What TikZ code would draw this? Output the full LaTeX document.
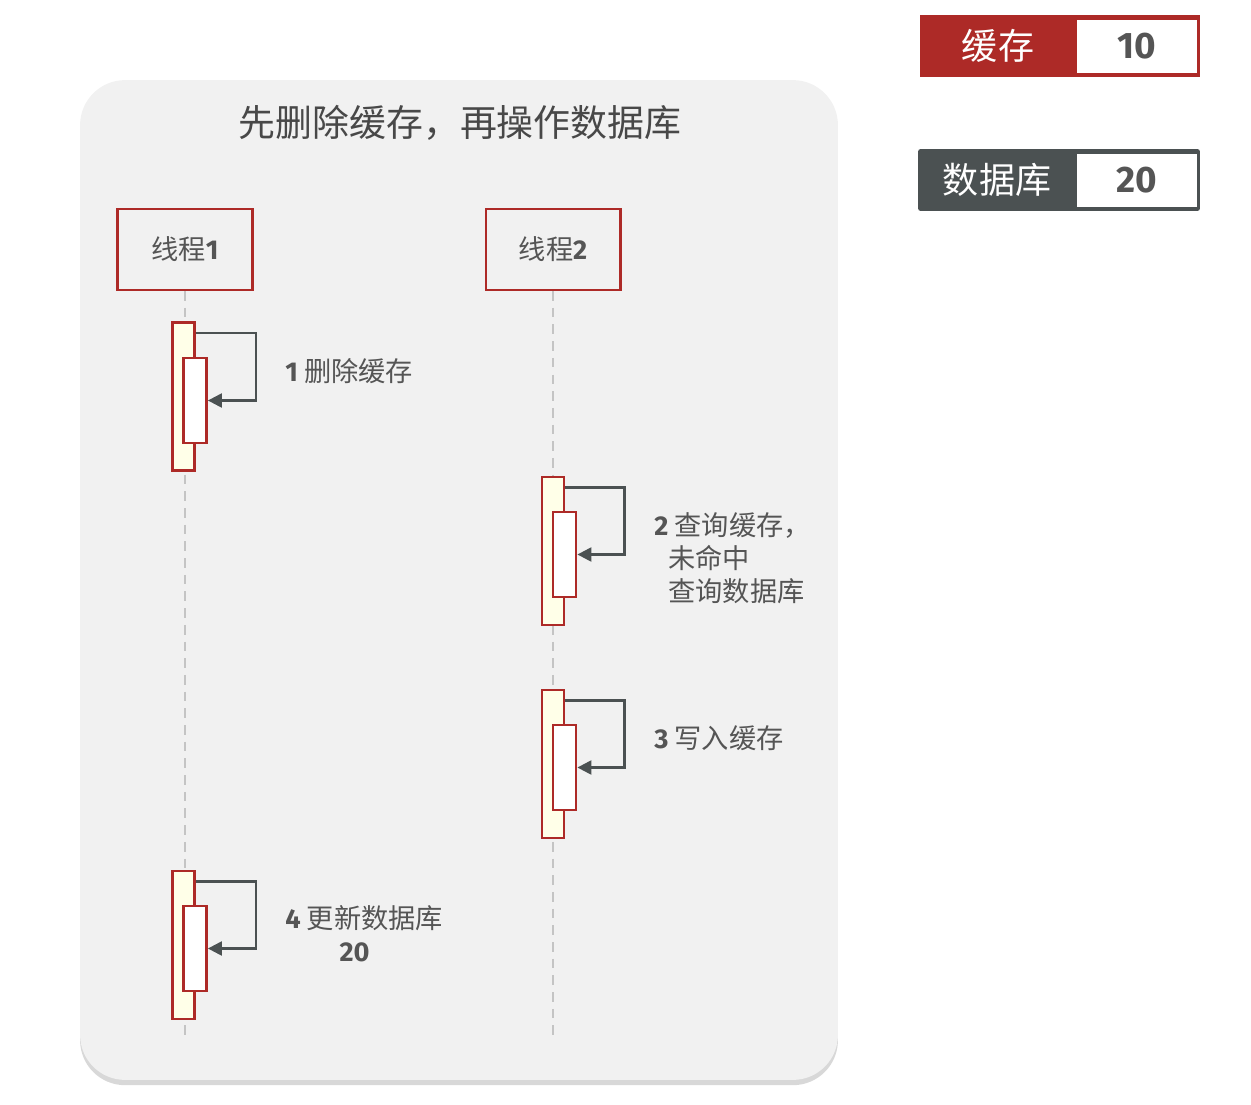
\documentclass[tikz,border=0pt]{standalone}
\usepackage{fontspec}
\setmainfont{Noto Sans CJK SC}
\newfontfamily\numf{Fira Sans}
\usepackage{tikz}
\usetikzlibrary{arrows.meta,calc,positioning,shadows}
\definecolor{cachered}{HTML}{AD2A27}
\definecolor{dbgray}{HTML}{4B5152}
\definecolor{panelgray}{HTML}{F1F1F1}
\definecolor{baryellow}{HTML}{FFFFE8}
\definecolor{inkgray}{HTML}{555555}
\definecolor{lifegray}{HTML}{C4C4C4}

\begin{document}
\begin{tikzpicture}[x=0.02cm,y=-0.02cm,>=Latex,
    thread/.style={draw=cachered,line width=1.2pt,fill=panelgray,
      minimum width=2.7cm,minimum height=1.62cm,text=inkgray,
      font=\fontsize{15.5}{18}\selectfont},
    actbar/.style={draw=cachered,line width=1.6pt,fill=baryellow,
      minimum width=0.44cm,minimum height=2.96cm,inner sep=0pt},
    actin/.style={draw=cachered,line width=1.6pt,fill=white,
      minimum width=0.46cm,minimum height=1.7cm,inner sep=0pt},
    selfmsg/.style={dbgray,line width=1.3pt,-{Triangle[length=8pt,width=8pt]}},
    msglabel/.style={text=inkgray,anchor=west,align=left,inner sep=0pt,
      font=\fontsize{15.5}{19}\selectfont},
    lifeline/.style={lifegray,line width=1.5pt,dash pattern=on 5.5pt off 4pt},
    keytext/.style={text=white,inner sep=0pt,font=\fontsize{20.5}{24}\selectfont},
    valtext/.style={text=inkgray,inner sep=0pt,font=\numf\bfseries\fontsize{21}{24}\selectfont}]
  \useasboundingbox (0,0) rectangle (1251,1105);

  % panel
  \node[rounded corners=0.9cm,fill=panelgray,minimum width=15.16cm,minimum height=20cm,
    drop shadow={shadow xshift=0pt,shadow yshift=-3pt,opacity=0.22,fill=black!70}]
    (panel) at (459,580) {};
  \node[text=inkgray!85!black,font=\fontsize{21}{24}\selectfont] (title) at (460,123)
    {先删除缓存，再操作数据库};

  % legend
  \node[fill=cachered,minimum width=5.6cm,minimum height=1.24cm,inner sep=0pt] (cachebox) at (1060,46) {};
  \node[fill=white,minimum width=2.4cm,minimum height=1.06cm,inner sep=0pt] (cacheval) at (1137,46.5) {};
  \node[keytext] (cachekey) at (998,46) {缓存};
  \node[valtext] (cachenum) at (cacheval) {10};
  \node[fill=dbgray,rounded corners=1.5pt,minimum width=5.64cm,minimum height=1.24cm,inner sep=0pt] (dbbox) at (1059,180) {};
  \node[fill=white,minimum width=2.4cm,minimum height=1.06cm,inner sep=0pt] (dbval) at (1137,180.5) {};
  \node[keytext] (dbkey) at (997,180) {数据库};
  \node[valtext] (dbnum) at (dbval) {20};

  % threads
  \node[thread] (thread1) at (185,249.5) {线程{\numf\bfseries 1}};
  \node[thread,right=4.62cm of thread1] (thread2) {线程{\numf\bfseries 2}};
  \coordinate (end1) at (185,1035);
  \coordinate (end2) at (thread2.south |- end1);
  \draw[lifeline] (thread1.south) -- (end1);
  \draw[lifeline] (thread2.south) -- (end2);

  % 1 delete cache
  \node[actbar] (act1) at (183.5,396.5) {};
  \node[actin] (act1in) at (195,400.5) {};
  \draw[selfmsg] ($(act1.north east)+(0,12)$) -- ++(60,0) |- (act1in.east);
  \node[msglabel] (lab1) at (285,371) {{\numf\bfseries 1} 删除缓存};

  % 2 read cache, miss, read db
  \node[actbar] (act2) at (553,551) {};
  \node[actin] (act2in) at (564.5,554.5) {};
  \draw[selfmsg] ($(act2.north east)+(0,12)$) -- ++(59,0) |- (act2in.east);
  \node[msglabel,anchor=north west] (lab2) at (654,512)
    {{\numf\bfseries 2} 查询缓存，\\\hspace{8pt}未命中\\\hspace{8pt}查询数据库};

  % 3 write cache
  \node[actbar] (act3) at (553,764) {};
  \node[actin] (act3in) at (564.5,767.5) {};
  \draw[selfmsg] ($(act3.north east)+(0,12)$) -- ++(59,0) |- (act3in.east);
  \node[msglabel] (lab3) at (654,738) {{\numf\bfseries 3} 写入缓存};

  % 4 update db
  \node[actbar] (act4) at (183.5,945) {};
  \node[actin] (act4in) at (195,948.5) {};
  \draw[selfmsg] ($(act4.north east)+(0,12)$) -- ++(60,0) |- (act4in.east);
  \node[msglabel,anchor=north west,align=center] (lab4) at (285,905)
    {{\numf\bfseries 4} 更新数据库\\\mbox{\numf\bfseries 20\hspace{11pt}}};
\end{tikzpicture}
\end{document}
